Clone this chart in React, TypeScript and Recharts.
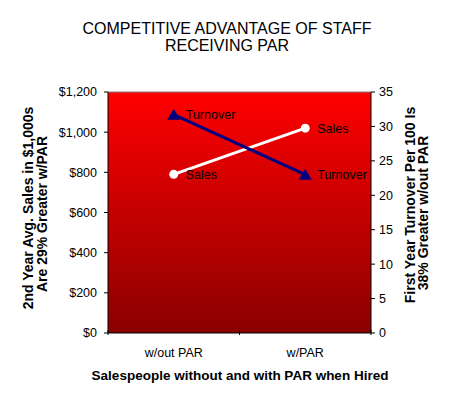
import React from "react";
import {
  ComposedChart,
  Line,
  XAxis,
  YAxis,
  CartesianGrid,
  ReferenceLine,
  LabelList,
} from "recharts";

const categories = ["w/out PAR", "w/PAR"];
const salesValues = [790, 1020];
const turnoverValues = [31.7, 23];
const salesTicks = [0, 200, 400, 600, 800, 1000, 1200];
const turnoverTicks = [0, 5, 10, 15, 20, 25, 30, 35];
const xTicks = [0, 0.5, 1, 1.5, 2];
const titleLines = ["COMPETITIVE ADVANTAGE OF STAFF", "RECEIVING PAR"];
const leftLabelLines = ["2nd Year Avg. Sales in $1,000s", "Are 29%  Greater w/PAR"];
const rightLabelLines = ["First Year Turnover Per 100 Is", "38%  Greater w/out PAR"];
const xLabel = "Salespeople without and with PAR when Hired";

const data = categories.map((c, i) => ({
  name: c,
  pos: i + 0.5,
  sales: salesValues[i],
  turnover: turnoverValues[i],
}));

const FONT = "'Liberation Sans', Arial, sans-serif";

const fmtMoney = (v: number) => "$" + v.toLocaleString("en-US");

const XTick = (props: any) => {
  const { x, y, payload } = props;
  const v = payload.value;
  const idx = v - 0.5;
  if (Number.isInteger(v)) {
    return <line x1={x} x2={x} y1={y - 3} y2={y + 2} stroke="#000" strokeWidth={1} />;
  }
  return (
    <text x={x} y={y + 24} textAnchor="middle" fontFamily={FONT} fontSize={12.5} fill="#000">
      {categories[idx]}
    </text>
  );
};

const Triangle = (props: any) => {
  const { cx, cy } = props;
  if (cx == null || cy == null) return null;
  return (
    <path
      d={`M${cx},${cy - 6} L${cx + 6.5},${cy + 5} L${cx - 6.5},${cy + 5} Z`}
      fill="#000080"
    />
  );
};

const Circle = (props: any) => {
  const { cx, cy } = props;
  if (cx == null || cy == null) return null;
  return <circle cx={cx} cy={cy} r={4.5} fill="#fff" />;
};

const makeLabel = (text: string) => (props: any) => {
  const { x, y } = props;
  return (
    <text x={x + 12} y={y} dy="0.36em" fontFamily={FONT} fontSize={12.5} fill="#000">
      {text}
    </text>
  );
};

export default function App() {
  return (
    <div style={{ position: "absolute", left: 0, top: 0, width: 454, height: 403, background: "#fff" }}>
      <ComposedChart
        width={454}
        height={403}
        data={data}
        margin={{ top: 92, right: 43, bottom: 40, left: 48 }}
      >
        <defs>
          <linearGradient id="bg" x1="0" y1="0" x2="0" y2="1">
            <stop offset="0%" stopColor="#ff0000" />
            <stop offset="100%" stopColor="#8a0000" />
          </linearGradient>
        </defs>
        <CartesianGrid horizontal={false} vertical={false} fill="url(#bg)" fillOpacity={1} />
        <XAxis
          dataKey="pos"
          type="number"
          domain={[0, 2]}
          ticks={xTicks}
          interval={0}
          tickLine={false}
          tickSize={0}
          tickMargin={0}
          height={30}
          axisLine={{ stroke: "#000" }}
          tick={<XTick />}
        />
        <YAxis
          yAxisId="left"
          domain={[0, 1200]}
          ticks={salesTicks}
          width={60}
          tickSize={4}
          tickMargin={7}
          tickFormatter={fmtMoney}
          axisLine={{ stroke: "#000" }}
          tickLine={{ stroke: "#000" }}
          tick={{ fill: "#000", fontSize: 12.5, fontFamily: FONT }}
        />
        <YAxis
          yAxisId="right"
          orientation="right"
          domain={[0, 35]}
          ticks={turnoverTicks}
          width={40}
          tickSize={4}
          tickMargin={4}
          axisLine={{ stroke: "#000" }}
          tickLine={{ stroke: "#000" }}
          tick={{ fill: "#000", fontSize: 12.5, fontFamily: FONT }}
        />
        <ReferenceLine yAxisId="left" y={1200} stroke="#808080" strokeWidth={1} />
        <Line
          yAxisId="left"
          dataKey="sales"
          stroke="#ffffff"
          strokeWidth={3}
          dot={<Circle />}
          activeDot={false}
          isAnimationActive={false}
        >
          <LabelList dataKey="sales" content={makeLabel("Sales")} />
        </Line>
        <Line
          yAxisId="right"
          dataKey="turnover"
          stroke="#000080"
          strokeWidth={3}
          dot={<Triangle />}
          activeDot={false}
          isAnimationActive={false}
        >
          <LabelList dataKey="turnover" content={makeLabel("Turnover")} />
        </Line>
      </ComposedChart>
      <svg
        width={454}
        height={403}
        style={{ position: "absolute", left: 0, top: 0, pointerEvents: "none" }}
      >
        <g fontFamily={FONT} fill="#000" style={{ whiteSpace: "pre" }}>
          <text x={227} y={34} textAnchor="middle" fontSize={16}>{titleLines[0]}</text>
          <text x={227} y={51} textAnchor="middle" fontSize={16}>{titleLines[1]}</text>
          <text x={240} y={380} textAnchor="middle" fontSize={13.5} fontWeight="bold">{xLabel}</text>
          <text transform="translate(33,208) rotate(-90)" textAnchor="middle" fontSize={14} fontWeight="bold">{leftLabelLines[0]}</text>
          <text transform="translate(47,214) rotate(-90)" textAnchor="middle" fontSize={14} fontWeight="bold">{leftLabelLines[1]}</text>
          <text transform="translate(415,205) rotate(-90)" textAnchor="middle" fontSize={14} fontWeight="bold">{rightLabelLines[0]}</text>
          <text transform="translate(428,213) rotate(-90)" textAnchor="middle" fontSize={14} fontWeight="bold">{rightLabelLines[1]}</text>
        </g>
      </svg>
    </div>
  );
}
